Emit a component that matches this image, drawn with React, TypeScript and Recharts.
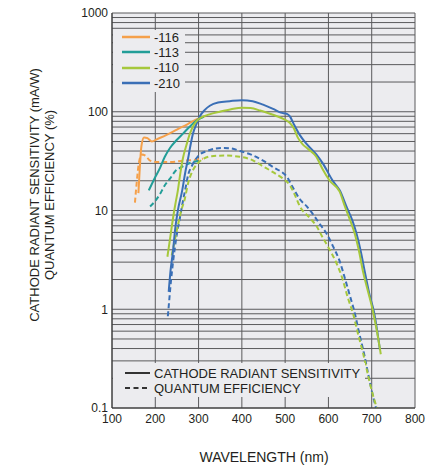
import { LineChart, Line, XAxis, YAxis, ReferenceArea, ReferenceLine, Label } from "recharts"

type Pt = [number, number]

// wavelength (nm), value
const sens116: Pt[] = [[161, 15], [164, 26], [168, 45], [174, 55], [182, 54], [192, 50], [205, 53], [225, 58], [250, 66], [275, 75], [296, 84], [315, 90]]
const qe116: Pt[] = [[153, 12], [157, 19], [162, 30], [169, 37], [177, 36], [188, 32], [205, 31], [235, 31], [265, 32], [290, 32.5], [310, 33.5]]

const sens113: Pt[] = [[185, 16], [198, 21], [211, 27], [222, 35], [234, 43], [250, 52], [264, 60], [280, 71], [296, 82], [312, 89]]
const qe113: Pt[] = [[188, 11], [200, 12.5], [211, 14.7], [222, 18], [234, 21], [246, 25], [257, 27], [270, 29], [282, 30.5], [300, 32]]

const sens110: Pt[] = [[228, 3.4], [235, 5.5], [241, 8.4], [247, 12], [252, 15.8], [258, 24], [264, 34], [272, 46], [280, 60], [288, 72], [296, 81], [303, 86], [325, 94], [349, 100], [375, 106], [400, 110], [420, 109], [442, 103], [460, 97], [481, 90], [500, 83], [511, 77], [520, 68], [529, 55], [540, 47], [553, 42], [572, 35], [587, 26], [603, 20], [626, 15.5], [638, 11], [650, 8], [661, 5.8], [670, 4], [680, 2.4], [690, 1.6], [703, 0.95], [712, 0.6], [721, 0.35]]
const qe110: Pt[] = [[238, 3.5], [245, 5], [252, 7], [260, 10], [268, 13], [276, 19], [284, 24], [298, 30], [312, 33.5], [330, 35.5], [360, 36], [395, 35], [420, 33], [449, 28], [475, 24], [495, 21], [511, 18], [522, 14.5], [534, 11], [557, 8.4], [572, 7], [587, 5.3], [603, 4], [619, 2.9], [633, 2.0], [645, 1.3], [657, 0.9], [668, 0.57], [680, 0.36], [690, 0.23], [700, 0.15], [712, 0.1]]

const sens210: Pt[] = [[231, 1.5], [235, 2.4], [241, 3.9], [246, 6.5], [252, 9.9], [262, 15.8], [269, 24], [276, 34], [281, 45], [287, 60], [295, 75], [303, 90], [315, 105], [326, 115], [345, 124], [372, 128], [400, 131], [425, 128], [449, 118], [472, 107], [490, 98], [504, 95], [511, 90], [520, 75], [534, 58], [550, 47], [572, 37], [587, 30], [610, 20], [626, 16], [643, 10.6], [655, 8], [665, 5.8], [675, 3.8], [684, 2.4], [695, 1.4], [705, 0.95], [719, 0.39]]
const qe210: Pt[] = [[229, 0.85], [232, 1.2], [235, 1.7], [241, 3.0], [250, 5.8], [257, 8.5], [264, 12.5], [270, 17], [276, 23], [284, 28], [300, 36], [319, 40], [340, 42.5], [356, 43], [375, 42.5], [396, 40], [420, 37], [449, 32], [475, 27], [495, 24], [504, 22], [516, 17.7], [534, 13], [550, 11], [564, 9.2], [580, 7.3], [596, 5.8], [611, 4.3], [626, 3.07], [638, 2.06], [650, 1.35], [660, 0.95], [670, 0.6], [682, 0.36], [692, 0.22], [700, 0.15], [710, 0.1]]

const seriesNames = ["-116", "-113", "-110", "-210"]
const seriesColors = ["#f5a04a", "#229e98", "#a6c83c", "#3a6fb6"]

const xTicks = [100, 200, 300, 400, 500, 600, 700, 800]
const yTicks = [0.1, 1, 10, 100, 1000]

const font = "'Liberation Sans', Arial, sans-serif"
const ink = "#231f20"
const plotBg = "#ececef"
const gridColor = "#5a5a5c"

// log minor grid lines: 1..9 in every decade
const gridValues: number[] = []
for (const d of [0.1, 1, 10, 100]) {
  for (let k = 1; k < 10; k++) gridValues.push(+(d * k).toPrecision(3))
}
gridValues.push(1000)

const rows = (pts: Pt[]) => pts.map(([wl, v]) => ({ wl, v }))

const series = [
  { name: seriesNames[0], color: seriesColors[0], sens: sens116, qe: qe116 },
  { name: seriesNames[1], color: seriesColors[1], sens: sens113, qe: qe113 },
  { name: seriesNames[3], color: seriesColors[3], sens: sens210, qe: qe210 },
  { name: seriesNames[2], color: seriesColors[2], sens: sens110, qe: qe110 },
]

function YTitle() {
  return (
    <g fill={ink} fontFamily={font} fontSize={13}>
      <text x={34} y={195} transform="rotate(-90, 34, 195)" textAnchor="middle" dominantBaseline="central">
        CATHODE RADIANT SENSITIVITY (mA/W)
      </text>
      <text x={49} y={195} transform="rotate(-90, 49, 195)" textAnchor="middle" dominantBaseline="central">
        QUANTUM EFFICIENCY (%)
      </text>
    </g>
  )
}

function XTitle() {
  return (
    <text x={264} y={457} fill={ink} fontFamily={font} fontSize={14} textAnchor="middle" dominantBaseline="central">
      WAVELENGTH (nm)
    </text>
  )
}

export default function App() {
  return (
    <div style={{ position: "absolute", left: 0, top: 0, width: 432, height: 468, background: "#fff" }}>
      <LineChart width={432} height={468} margin={{ top: 13, right: 17, left: 0, bottom: 0 }}>
        <XAxis
          dataKey="wl"
          type="number"
          domain={[100, 800]}
          ticks={xTicks}
          allowDataOverflow
          height={60}
          tickLine={false}
          tickSize={6}
          tickMargin={0}
          axisLine={{ stroke: "#333" }}
          tick={{ fill: ink, fontSize: 12, fontFamily: font }}
        >
          <Label content={<XTitle />} />
        </XAxis>
        <YAxis
          type="number"
          scale="log"
          domain={[0.1, 1000]}
          ticks={yTicks}
          allowDataOverflow
          width={112}
          tickLine={false}
          tickSize={4}
          tickMargin={0}
          axisLine={{ stroke: "#333" }}
          tick={{ fill: ink, fontSize: 12, fontFamily: font }}
          tickFormatter={(v: number) => String(v)}
        >
          <Label content={<YTitle />} />
        </YAxis>
        <ReferenceArea x1={100} x2={800} y1={0.1} y2={1000} fill={plotBg} fillOpacity={1} stroke="none" ifOverflow="visible" />
        {gridValues.map((v) => (
          <ReferenceLine key={"h" + v} y={v} stroke={gridColor} strokeWidth={1} ifOverflow="visible" />
        ))}
        {xTicks.map((v) => (
          <ReferenceLine key={"v" + v} x={v} stroke={gridColor} strokeWidth={1} ifOverflow="visible" />
        ))}
        {series.map((s) => (
          <Line
            key={"qe" + s.name}
            data={rows(s.qe)}
            dataKey="v"
            type="monotone"
            stroke={s.color}
            strokeWidth={2}
            strokeDasharray="5 3"
            dot={false}
            isAnimationActive={false}
          />
        ))}
        {series.map((s) => (
          <Line
            key={"s" + s.name}
            data={rows(s.sens)}
            dataKey="v"
            type="monotone"
            stroke={s.color}
            strokeWidth={2}
            dot={false}
            isAnimationActive={false}
          />
        ))}
      </LineChart>

      <div style={{ position: "absolute", left: 113, top: 30, width: 72, height: 62, background: plotBg, fontFamily: font, fontSize: 13, color: ink }}>
        {seriesNames.map((n, i) => (
          <div key={n} style={{ position: "absolute", left: 0, top: 7 + i * 15.4 - 8, height: 16, display: "flex", alignItems: "center" }}>
            <svg width={40} height={16}>
              <line x1={9} x2={37} y1={8} y2={8} stroke={seriesColors[i]} strokeWidth={2.5} />
            </svg>
            <span style={{ marginLeft: 1 }}>{n}</span>
          </div>
        ))}
      </div>

      <div style={{ position: "absolute", left: 113, top: 363, width: 252, height: 34, background: plotBg, fontFamily: font, fontSize: 13, color: ink }}>
        {["CATHODE RADIANT SENSITIVITY", "QUANTUM EFFICIENCY"].map((n, i) => (
          <div key={n} style={{ position: "absolute", left: 0, top: 2 + i * 15, height: 16, display: "flex", alignItems: "center", whiteSpace: "nowrap" }}>
            <svg width={40} height={16}>
              <line x1={12} x2={37} y1={8} y2={8} stroke="#333" strokeWidth={2} strokeDasharray={i === 1 ? "5 3.5" : undefined} />
            </svg>
            <span style={{ marginLeft: 1 }}>{n}</span>
          </div>
        ))}
      </div>
    </div>
  )
}
